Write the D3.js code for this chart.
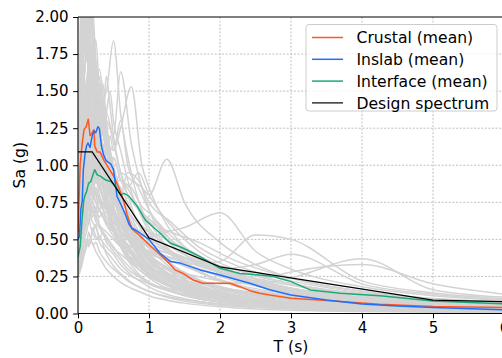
<!DOCTYPE html>
<html>
<head>
<meta charset="utf-8">
<script src="https://cdn.jsdelivr.net/npm/d3@7"></script>
<style>
  html, body { margin: 0; padding: 0; background: #fff; }
  svg { display: block; }
  text { font-family: "DejaVu Sans", sans-serif; }
</style>
</head>
<body>
<svg id="chart" width="502" height="358"></svg>
<script>
// ---------------- DATA ----------------
const xTicks = [0, 1, 2, 3, 4, 5, 6];
const yTicks = [0, 0.25, 0.5, 0.75, 1.0, 1.25, 1.5, 1.75, 2.0];
const xLabel = "T (s)";
const yLabel = "Sa (g)";
const legendLabels = ["Crustal (mean)", "Inslab (mean)", "Interface (mean)", "Design spectrum"];

// individual record spectra (grey), set A on a common period grid
const recordPeriods = [0, 0.04, 0.08, 0.12, 0.16, 0.2, 0.25, 0.3, 0.4, 0.5, 0.6, 0.75, 0.9, 1.0, 1.25, 1.5, 2.0, 2.5, 3.0, 4.0, 5.0, 6.0];
const records = [
  [0.62,1.10,1.75,2.30,2.05,1.60,1.45,1.20,0.95,0.80,0.62,0.48,0.38,0.33,0.24,0.18,0.11,0.075,0.055,0.032,0.022,0.016],
  [0.70,1.40,2.40,1.90,1.70,1.80,1.30,1.05,0.90,0.70,0.55,0.42,0.33,0.29,0.21,0.16,0.10,0.07,0.05,0.03,0.02,0.015],
  [0.55,0.80,1.10,1.30,1.45,1.30,1.55,1.40,1.50,1.84,1.35,0.95,0.70,0.62,0.45,0.35,0.22,0.15,0.11,0.07,0.05,0.04],
  [0.48,0.65,0.95,1.20,1.10,1.25,1.05,1.20,1.30,1.20,1.63,1.15,0.85,0.70,0.50,0.40,0.27,0.19,0.14,0.09,0.065,0.05],
  [0.45,0.60,0.85,1.00,1.15,1.05,1.20,1.05,1.15,1.10,1.25,1.53,1.00,0.85,0.60,0.45,0.30,0.21,0.16,0.10,0.07,0.05],
  [0.40,0.55,0.75,0.90,1.05,0.95,1.10,0.95,0.90,0.85,0.95,0.90,0.85,0.80,1.04,0.75,0.48,0.33,0.24,0.15,0.10,0.07],
  [0.35,0.48,0.70,0.85,0.80,0.75,0.85,0.75,0.70,0.65,0.60,0.58,0.55,0.52,0.55,0.58,0.68,0.42,0.30,0.18,0.12,0.09],
  [0.30,0.40,0.55,0.65,0.75,0.70,0.65,0.70,0.60,0.55,0.50,0.45,0.42,0.40,0.36,0.33,0.35,0.53,0.50,0.22,0.14,0.10],
  [0.42,0.60,0.90,1.05,0.95,1.10,0.90,0.85,0.75,0.65,0.58,0.50,0.45,0.42,0.38,0.35,0.30,0.33,0.40,0.20,0.13,0.09],
  [0.33,0.45,0.65,0.80,0.70,0.75,0.65,0.60,0.55,0.50,0.45,0.40,0.36,0.33,0.30,0.27,0.22,0.20,0.24,0.37,0.16,0.11],
  [0.38,0.50,0.72,0.95,0.85,0.90,0.80,0.70,0.62,0.55,0.48,0.40,0.34,0.31,0.27,0.24,0.20,0.22,0.28,0.33,0.20,0.13],
  [0.25,0.30,0.38,0.45,0.50,0.48,0.42,0.38,0.30,0.25,0.21,0.17,0.14,0.12,0.09,0.07,0.045,0.03,0.022,0.013,0.009,0.007],
  [0.26,0.33,0.42,0.50,0.46,0.55,0.50,0.52,0.40,0.32,0.27,0.21,0.17,0.15,0.11,0.085,0.055,0.04,0.03,0.018,0.012,0.009],
  [0.28,0.38,0.52,0.60,0.68,0.62,0.58,0.52,0.45,0.40,0.33,0.26,0.21,0.18,0.13,0.10,0.065,0.045,0.034,0.02,0.014,0.01],
  [0.30,0.45,0.60,0.78,0.72,0.65,0.72,0.60,0.52,0.45,0.38,0.30,0.24,0.21,0.16,0.12,0.08,0.055,0.04,0.025,0.017,0.012],
  [0.35,0.55,0.80,0.75,0.95,0.85,0.75,0.70,0.60,0.52,0.45,0.36,0.30,0.26,0.19,0.15,0.10,0.07,0.05,0.03,0.02,0.015],
  [0.45,0.75,1.10,1.35,1.20,1.05,0.95,0.85,0.72,0.60,0.50,0.40,0.32,0.28,0.20,0.15,0.095,0.065,0.048,0.028,0.019,0.014],
  [0.52,0.90,1.45,1.30,1.60,1.35,1.15,1.00,0.82,0.68,0.55,0.43,0.35,0.30,0.22,0.17,0.11,0.075,0.055,0.033,0.022,0.016],
  [0.60,1.20,1.70,1.95,1.65,1.50,1.25,1.10,0.88,0.72,0.60,0.47,0.38,0.33,0.25,0.19,0.12,0.085,0.062,0.037,0.025,0.018],
  [0.75,1.50,2.20,2.60,2.30,1.90,1.60,1.30,1.00,0.80,0.62,0.46,0.36,0.31,0.23,0.17,0.10,0.07,0.05,0.03,0.02,0.015],
  [0.50,0.85,1.30,1.55,1.80,2.10,1.70,1.45,1.15,0.95,0.80,0.62,0.50,0.44,0.33,0.25,0.16,0.11,0.08,0.05,0.034,0.025],
  [0.40,0.60,0.95,1.15,1.35,1.25,1.45,1.65,1.25,1.00,0.82,0.65,0.52,0.46,0.35,0.27,0.17,0.12,0.09,0.055,0.037,0.027],
  [0.36,0.50,0.70,0.95,1.10,1.20,1.05,1.15,1.35,1.15,0.95,0.80,0.66,0.58,0.44,0.34,0.22,0.15,0.11,0.07,0.05,0.036],
  [0.32,0.42,0.60,0.72,0.85,0.80,0.90,0.85,0.95,1.05,0.90,0.85,0.72,0.68,0.55,0.45,0.32,0.23,0.17,0.10,0.07,0.05],
  [0.42,0.65,1.00,0.90,1.15,1.00,0.88,0.92,0.80,0.68,0.60,0.55,0.50,0.48,0.42,0.38,0.28,0.20,0.15,0.09,0.06,0.045],
  [0.55,1.00,1.60,1.40,1.20,1.30,1.05,0.90,0.70,0.55,0.45,0.35,0.28,0.24,0.17,0.13,0.08,0.055,0.04,0.024,0.016,0.012],
  [0.48,0.70,1.05,1.25,1.40,1.20,1.05,0.95,0.78,0.65,0.52,0.40,0.31,0.27,0.19,0.14,0.09,0.06,0.045,0.027,0.018,0.013],
  [0.58,1.05,1.50,1.75,1.55,1.70,1.40,1.20,1.00,0.85,0.70,0.55,0.44,0.38,0.28,0.21,0.13,0.09,0.065,0.04,0.027,0.02],
  [0.38,0.55,0.80,1.00,0.90,1.00,0.95,0.80,0.68,0.75,0.62,0.50,0.42,0.38,0.30,0.25,0.18,0.13,0.10,0.06,0.04,0.03],
  [0.65,1.30,1.90,2.20,1.80,1.60,1.50,1.35,1.10,0.90,0.75,0.58,0.47,0.40,0.30,0.23,0.14,0.10,0.07,0.045,0.03,0.022],
  [0.44,0.70,0.95,1.20,1.05,1.25,1.10,1.30,1.10,0.95,0.78,0.66,0.58,0.55,0.50,0.42,0.30,0.22,0.17,0.11,0.075,0.055],
  [0.34,0.46,0.62,0.75,0.85,0.95,0.80,0.78,0.70,0.62,0.55,0.48,0.44,0.41,0.36,0.33,0.26,0.20,0.16,0.11,0.08,0.06],
  [0.27,0.35,0.48,0.55,0.62,0.55,0.60,0.48,0.42,0.36,0.30,0.25,0.22,0.20,0.17,0.15,0.12,0.09,0.07,0.045,0.03,0.022],
  [0.29,0.40,0.55,0.68,0.62,0.70,0.62,0.58,0.50,0.44,0.40,0.34,0.28,0.25,0.20,0.16,0.11,0.08,0.06,0.04,0.028,0.02],
  [0.85,1.60,2.50,2.20,2.40,2.00,1.70,1.40,1.10,0.85,0.68,0.50,0.40,0.35,0.26,0.20,0.12,0.085,0.06,0.037,0.025,0.018],
  [0.46,0.80,1.20,1.50,1.70,1.55,1.85,1.50,1.20,0.95,0.75,0.58,0.46,0.40,0.30,0.23,0.15,0.10,0.075,0.045,0.03,0.022]
];

// individual record spectra (grey), set B on a finer short-period grid
const recordPeriodsB = [0, 0.03, 0.06, 0.09, 0.12, 0.15, 0.18, 0.21, 0.25, 0.3, 0.35, 0.4, 0.45, 0.5, 0.6, 0.7, 0.85, 1.0, 1.3, 1.7, 2.2, 3.0, 4.0, 6.0];
const recordsB = [
  [0.95,1.9,2.3,1.8,2.1,1.6,1.5,1.7,1.3,1.2,1.0,0.95,0.85,0.8,0.62,0.5,0.4,0.32,0.22,0.15,0.1,0.06,0.035,0.015],
  [0.55,0.9,1.3,1.6,1.4,1.75,1.5,1.9,1.6,1.4,1.55,1.3,1.1,0.95,0.75,0.6,0.45,0.36,0.25,0.17,0.11,0.07,0.04,0.02],
  [0.5,0.7,1.0,1.2,1.5,1.3,1.45,1.3,1.7,1.5,1.35,1.6,1.4,1.2,0.95,0.8,0.6,0.48,0.34,0.23,0.15,0.09,0.055,0.03],
  [0.42,0.6,0.8,1.0,0.9,1.15,1.3,1.1,1.25,1.45,1.2,1.35,1.5,1.3,1.1,0.9,0.7,0.55,0.4,0.28,0.19,0.12,0.075,0.04],
  [0.35,0.45,0.6,0.72,0.85,0.78,0.9,1.0,0.9,1.05,1.15,1.0,1.2,1.1,1.3,1.0,0.85,0.7,0.5,0.36,0.25,0.16,0.1,0.05],
  [0.3,0.38,0.5,0.55,0.65,0.6,0.7,0.75,0.68,0.8,0.72,0.85,0.78,0.9,0.8,0.95,0.9,0.75,0.62,0.45,0.33,0.22,0.14,0.07],
  [0.8,1.5,2.2,2.0,1.7,1.9,1.5,1.3,1.2,1.0,0.85,0.75,0.65,0.58,0.45,0.36,0.27,0.21,0.15,0.1,0.065,0.04,0.025,0.012],
  [0.65,1.2,1.6,2.3,1.9,2.2,1.8,1.6,1.4,1.25,1.05,0.9,0.8,0.72,0.55,0.45,0.34,0.27,0.19,0.13,0.085,0.05,0.03,0.015],
  [0.45,0.65,0.85,1.05,1.25,1.1,1.35,1.2,1.4,1.15,1.0,1.1,0.95,0.85,0.7,0.62,0.55,0.5,0.42,0.33,0.24,0.15,0.09,0.045],
  [0.38,0.5,0.7,0.85,0.8,0.95,0.88,1.05,0.95,0.88,0.8,0.75,0.72,0.68,0.6,0.55,0.5,0.45,0.4,0.32,0.25,0.17,0.11,0.06],
  [0.28,0.34,0.42,0.5,0.46,0.55,0.5,0.58,0.52,0.5,0.55,0.48,0.45,0.42,0.36,0.3,0.25,0.2,0.15,0.1,0.07,0.045,0.028,0.014],
  [0.6,1.0,1.4,1.25,1.55,1.35,1.2,1.4,1.15,0.95,0.85,0.75,0.68,0.6,0.48,0.4,0.32,0.26,0.19,0.13,0.09,0.055,0.033,0.016],
  [0.5,0.8,1.15,1.4,1.25,1.5,1.7,1.45,1.3,1.55,1.35,1.15,1.0,0.88,0.7,0.56,0.42,0.33,0.23,0.16,0.1,0.06,0.036,0.018],
  [0.9,1.7,2.5,2.2,2.4,1.9,2.1,1.7,1.5,1.3,1.1,0.95,0.82,0.72,0.55,0.44,0.33,0.26,0.18,0.12,0.08,0.048,0.028,0.014],
  [0.4,0.55,0.75,0.9,1.1,1.3,1.15,1.25,1.1,1.2,1.05,0.95,0.9,0.82,0.68,0.58,0.5,0.44,0.36,0.28,0.2,0.13,0.08,0.04],
  [0.33,0.42,0.55,0.68,0.75,0.7,0.82,0.78,0.85,0.75,0.7,0.65,0.6,0.55,0.46,0.4,0.34,0.3,0.25,0.2,0.16,0.11,0.07,0.035],
  [0.7,1.3,1.9,1.6,1.85,2.0,1.75,1.55,1.35,1.6,1.4,1.2,1.05,0.9,0.72,0.6,0.46,0.37,0.26,0.18,0.12,0.075,0.045,0.022],
  [0.48,0.75,1.0,0.9,1.2,1.05,1.3,1.15,1.05,0.95,1.1,0.98,0.85,0.78,0.65,0.55,0.45,0.38,0.3,0.22,0.16,0.1,0.06,0.03],
  [0.36,0.46,0.62,0.75,0.7,0.85,0.8,0.92,1.0,0.9,0.95,0.85,0.8,0.75,0.7,0.68,0.6,0.52,0.42,0.34,0.27,0.19,0.12,0.06],
  [0.26,0.3,0.36,0.42,0.48,0.45,0.5,0.46,0.48,0.42,0.38,0.35,0.32,0.3,0.26,0.22,0.18,0.15,0.11,0.08,0.055,0.035,0.022,0.011],
  [0.58,1.1,1.7,1.45,1.3,1.55,1.35,1.15,1.0,0.88,0.78,0.7,0.62,0.56,0.45,0.38,0.3,0.25,0.18,0.13,0.09,0.06,0.04,0.02],
  [0.44,0.62,0.9,1.1,1.3,1.55,1.35,1.6,1.4,1.2,1.3,1.1,0.98,0.88,0.72,0.6,0.48,0.4,0.3,0.22,0.15,0.095,0.06,0.03],
  [0.4,0.55,0.7,0.85,0.95,1.05,0.9,1.1,1.0,1.05,0.95,1.0,0.92,0.88,0.9,0.85,0.95,0.8,0.6,0.42,0.3,0.2,0.13,0.07],
  [0.35,0.45,0.6,0.7,0.8,0.75,0.85,0.9,0.8,0.85,0.9,0.8,0.85,0.75,0.7,0.78,0.72,0.62,0.55,0.48,0.36,0.24,0.15,0.08],
  [0.3,0.4,0.52,0.6,0.66,0.7,0.65,0.72,0.7,0.65,0.68,0.62,0.6,0.58,0.55,0.52,0.5,0.46,0.4,0.35,0.3,0.2,0.13,0.07],
  [0.45,0.62,0.85,1.0,1.15,1.0,1.2,1.1,1.25,1.1,1.05,0.95,1.0,0.9,0.85,0.75,0.62,0.55,0.45,0.35,0.24,0.14,0.085,0.04],
  [0.38,0.5,0.68,0.8,0.9,0.85,1.0,0.95,1.05,1.2,1.0,1.1,0.95,1.05,0.9,0.8,0.7,0.64,0.5,0.38,0.28,0.17,0.1,0.05],
  [0.32,0.42,0.55,0.62,0.7,0.78,0.72,0.8,0.75,0.7,0.75,0.7,0.66,0.62,0.56,0.5,0.45,0.42,0.38,0.3,0.22,0.14,0.09,0.045]
];

// mean spectra
const crustalT  = [0, 0.03, 0.06, 0.085, 0.115, 0.145, 0.17, 0.2, 0.225, 0.235, 0.27, 0.31, 0.37, 0.51, 0.6, 0.65, 0.69, 0.76, 0.88, 1.01, 1.15, 1.3, 1.37, 1.48, 1.62, 1.76, 1.95, 2.14, 2.28, 2.42, 2.56, 2.7, 3.0, 3.5, 4.25, 5.0, 6.0];
const crustalSa = [0.55, 1.0, 1.15, 1.24, 1.26, 1.31, 1.2, 1.22, 1.24, 1.13, 1.09, 1.09, 1.03, 0.92, 0.82, 0.745, 0.67, 0.57, 0.52, 0.46, 0.40, 0.33, 0.294, 0.27, 0.226, 0.204, 0.204, 0.204, 0.181, 0.154, 0.136, 0.125, 0.103, 0.087, 0.062, 0.048, 0.04];

const inslabT  = [0, 0.02, 0.04, 0.06, 0.075, 0.1, 0.12, 0.14, 0.17, 0.2, 0.225, 0.25, 0.28, 0.3, 0.33, 0.36, 0.4, 0.46, 0.5, 0.55, 0.6, 0.67, 0.72, 0.76, 0.8, 0.88, 1.0, 1.15, 1.3, 1.44, 1.72, 2.0, 2.42, 2.7, 3.0, 3.5, 4.0, 4.5, 5.0, 6.0];
const inslabSa = [0.5, 0.52, 0.7, 0.76, 0.97, 1.08, 1.13, 1.15, 1.12, 1.2, 1.23, 1.22, 1.26, 1.25, 1.13, 1.07, 1.03, 1.01, 0.97, 0.79, 0.74, 0.665, 0.6, 0.575, 0.565, 0.54, 0.5, 0.41, 0.35, 0.34, 0.294, 0.26, 0.204, 0.16, 0.125, 0.091, 0.064, 0.05, 0.04, 0.025];

const interfaceT  = [0, 0.03, 0.06, 0.08, 0.1, 0.12, 0.15, 0.18, 0.22, 0.235, 0.27, 0.32, 0.39, 0.46, 0.53, 0.6, 0.65, 0.72, 0.84, 0.95, 1.05, 1.15, 1.3, 1.44, 1.72, 2.0, 2.28, 2.56, 2.75, 3.0, 3.27, 3.69, 4.25, 5.0, 6.0];
const interfaceSa = [0.38, 0.45, 0.65, 0.76, 0.8, 0.82, 0.88, 0.89, 0.95, 0.97, 0.935, 0.925, 0.9, 0.89, 0.857, 0.8, 0.81, 0.79, 0.72, 0.63, 0.587, 0.545, 0.474, 0.45, 0.384, 0.305, 0.27, 0.26, 0.25, 0.215, 0.159, 0.136, 0.12, 0.085, 0.066];

const designT  = [0, 0.2, 1.0, 2.0, 5.0, 6.0];
const designSa = [1.09, 1.09, 0.51, 0.315, 0.09, 0.08];

const seriesColors = ["#ff5722", "#1f6fff", "#1aaa78", "#000000"];
const recordColor = "#d3d3d3";

// ---------------- CHART ----------------
const svg = d3.select("#chart");
const m = { left: 78, top: 17, right: 504, bottom: 313.5 };

const x = d3.scaleLinear().domain([0, 6]).range([m.left, m.right]);
const y = d3.scaleLinear().domain([0, 2]).range([m.bottom, m.top]);

svg.append("defs").append("clipPath").attr("id", "plotclip")
  .append("rect").attr("x", m.left).attr("y", m.top)
  .attr("width", m.right - m.left).attr("height", m.bottom - m.top);

// grid
const grid = svg.append("g");
grid.selectAll("line.gx").data(xTicks.filter(d => d > 0 && d < 6)).join("line")
  .attr("x1", d => x(d)).attr("x2", d => x(d))
  .attr("y1", m.top).attr("y2", m.bottom)
  .attr("stroke", "#b0b0b0").attr("stroke-width", 0.8).attr("stroke-dasharray", "2,1.6");
grid.selectAll("line.gy").data(yTicks.filter(d => d > 0 && d < 2)).join("line")
  .attr("x1", m.left).attr("x2", m.right)
  .attr("y1", d => y(d)).attr("y2", d => y(d))
  .attr("stroke", "#b0b0b0").attr("stroke-width", 0.8).attr("stroke-dasharray", "2,1.6");

const plot = svg.append("g").attr("clip-path", "url(#plotclip)");

const recLineA = d3.line().x((d, i) => x(recordPeriods[i])).y(d => y(d)).curve(d3.curveMonotoneX);
const recLineB = d3.line().x((d, i) => x(recordPeriodsB[i])).y(d => y(d)).curve(d3.curveMonotoneX);
plot.selectAll("path.recA").data(records).join("path")
  .attr("d", recLineA).attr("fill", "none")
  .attr("stroke", recordColor).attr("stroke-width", 1.5).attr("stroke-linejoin", "round");
plot.selectAll("path.recB").data(recordsB).join("path")
  .attr("d", recLineB).attr("fill", "none")
  .attr("stroke", recordColor).attr("stroke-width", 1.5).attr("stroke-linejoin", "round");

const pairLine = d3.line().x(d => x(d[0])).y(d => y(d[1]));
const series = [
  { T: crustalT, Sa: crustalSa, w: 1.5 },
  { T: inslabT, Sa: inslabSa, w: 1.5 },
  { T: interfaceT, Sa: interfaceSa, w: 1.5 },
  { T: designT, Sa: designSa, w: 1.2 }
];
series.forEach((s, i) => {
  plot.append("path")
    .attr("d", pairLine(s.T.map((t, k) => [t, s.Sa[k]])))
    .attr("fill", "none").attr("stroke", seriesColors[i])
    .attr("stroke-width", s.w).attr("stroke-linejoin", "round");
});

// axes
const xAxis = d3.axisBottom(x).tickValues(xTicks).tickFormat(d3.format("d")).tickSize(4.9).tickPadding(4.0);
const yAxis = d3.axisLeft(y).tickValues(yTicks).tickFormat(d3.format(".2f")).tickSize(4.9).tickPadding(4.5);

const gx = svg.append("g").attr("transform", `translate(0,${m.bottom})`).call(xAxis);
const gy = svg.append("g").attr("transform", `translate(${m.left},0)`).call(yAxis);
[gx, gy].forEach(g => {
  g.attr("font-size", null).attr("font-family", null);
  g.select(".domain").remove();
  g.selectAll(".tick line").attr("stroke", "#000").attr("stroke-width", 1);
  g.selectAll(".tick text").style("font-family", "'DejaVu Sans'").style("font-size", "15px").attr("fill", "#000");
});

// spines
svg.append("line").attr("x1", m.left).attr("x2", m.left).attr("y1", m.top).attr("y2", m.bottom)
  .attr("stroke", "#000").attr("stroke-width", 1.1);
svg.append("line").attr("x1", m.left).attr("x2", m.right).attr("y1", m.bottom).attr("y2", m.bottom)
  .attr("stroke", "#000").attr("stroke-width", 1.1);
svg.append("line").attr("x1", m.left).attr("x2", m.right).attr("y1", m.top).attr("y2", m.top)
  .attr("stroke", "#000").attr("stroke-width", 1.1);

// axis labels
svg.append("text").attr("x", (m.left + m.right) / 2).attr("y", 352)
  .attr("text-anchor", "middle").style("font-size", "15.6px").attr("fill", "#000").text(xLabel);
svg.append("text").attr("transform", `translate(25,${(m.top + m.bottom) / 2}) rotate(-90)`)
  .attr("text-anchor", "middle").style("font-size", "15.6px").attr("fill", "#000").text(yLabel);

// legend
const lg = svg.append("g");
lg.append("rect").attr("x", 306).attr("y", 24.5).attr("width", 191).attr("height", 86.5)
  .attr("rx", 3).attr("fill", "#fff").attr("fill-opacity", 0.8)
  .attr("stroke", "#cccccc").attr("stroke-width", 1);
legendLabels.forEach((lab, i) => {
  const cy = 37.5 + i * 21.8;
  lg.append("line").attr("x1", 312).attr("x2", 343).attr("y1", cy).attr("y2", cy)
    .attr("stroke", seriesColors[i]).attr("stroke-width", i === 3 ? 1.2 : 1.5);
  lg.append("text").attr("x", 356.5).attr("y", cy + 5.6).style("font-size", "15.6px")
    .attr("fill", "#000").text(lab);
});
</script>
</body>
</html>
